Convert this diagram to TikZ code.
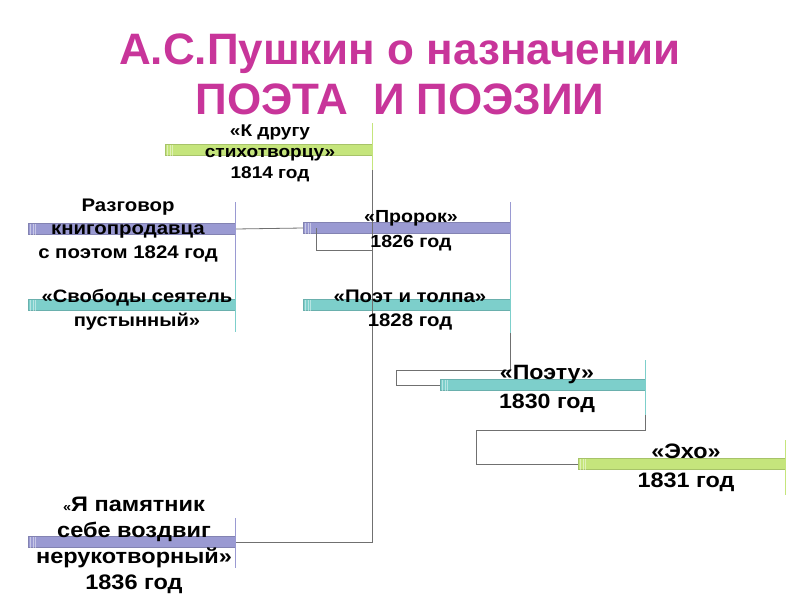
\documentclass[tikz,border=0pt]{standalone}
\usepackage{fontspec}
\setmainfont{Liberation Sans}
\newfontfamily\widefont[FakeStretch=1.12]{Liberation Sans}
\usetikzlibrary{calc}
\definecolor{ttl}{HTML}{C8359A}
\definecolor{pbarc}{HTML}{9A9AD2}
\definecolor{tbarc}{HTML}{7DCFCB}
\definecolor{gbarc}{HTML}{C5E57C}
\definecolor{connc}{HTML}{707070}
\begin{document}
\begin{tikzpicture}[x=1pt,y=-1pt,
  barbox/.style={rectangle, inner sep=0pt, minimum height=11pt, anchor=west, draw=#1!85!black, line width=0.4pt, fill=#1},
  conn/.style={draw=connc, line width=0.8pt},
  ticknode/.style={line width=1.2pt},
  lbl/.style={align=center, inner sep=0pt},
  ttlstyle/.style={align=center, inner sep=0pt, text=ttl, font=\bfseries\fontsize{44}{46}\selectfont}]
\useasboundingbox[fill=white] (0,0) rectangle (800,600);

% title
\node[ttlstyle] (title1) at (400,54) {А.С.Пушкин о назначении};
\node[ttlstyle] (title2) at (400,99) {ПОЭТА\ \ И ПОЭЗИИ};

% bars
\node[barbox=gbarc, minimum width=207pt] (b1) at (165,150) {};
\node[barbox=pbarc, minimum width=207pt] (b2) at (28,229) {};
\node[barbox=pbarc, minimum width=207pt] (b3) at (303,228) {};
\node[barbox=tbarc, minimum width=207pt] (b4) at (28,305) {};
\node[barbox=tbarc, minimum width=207pt] (b5) at (303,305) {};
\node[barbox=tbarc, minimum width=205pt] (b6) at (440,385) {};
\node[barbox=gbarc, minimum width=207pt] (b7) at (578,464) {};
\node[barbox=pbarc, minimum width=207pt] (b8) at (28,542) {};

% striped caps at left ends
\foreach \b in {b1,b2,b3,b4,b5,b6,b7,b8}{
  \foreach \dx in {2,4.5,7}{
    \fill[white, opacity=0.45] ($(\b.west)+(\dx,-5.5)$) rectangle ++(1,11);
  }
}

% connectors
\coordinate (trunk) at (373,250);
\draw[conn] (b8.east) -| (b1.east);
\draw[conn] (b2.east) -- (b3.west);
\draw[conn] ($(b3.west)+(13,0)$) |- (trunk);
\draw[conn] (b3.east) |- (396,370) |- (b6.west);
\draw[conn] (b6.east) |- (476,430) |- (b7.west);

% vertical ticks at right ends
\draw[ticknode, draw=gbarc] ($(b1.east)+(0,-27)$) -- ($(b1.east)+(0,20)$);
\draw[ticknode, draw=pbarc] ($(b2.east)+(0,-27)$) -- ($(b2.east)+(0,51)$);
\draw[ticknode, draw=pbarc] ($(b3.east)+(0,-26)$) -- ($(b3.east)+(0,52)$);
\draw[ticknode, draw=tbarc] ($(b4.east)+(0,-25)$) -- ($(b4.east)+(0,27)$);
\draw[ticknode, draw=tbarc] ($(b5.east)+(0,-25)$) -- ($(b5.east)+(0,28)$);
\draw[ticknode, draw=tbarc] ($(b6.east)+(0,-25)$) -- ($(b6.east)+(0,30)$);
\draw[ticknode, draw=gbarc] ($(b7.east)+(0,-24)$) -- ($(b7.east)+(0,31)$);
\draw[ticknode, draw=pbarc] ($(b8.east)+(0,-24)$) -- ($(b8.east)+(0,26)$);

% labels
\node[lbl, font=\widefont\bfseries\fontsize{17}{21}\selectfont] (t1) at (270,153) {«К другу\\стихотворцу»\\1814 год};
\node[lbl, font=\widefont\bfseries\fontsize{18.2}{23.5}\selectfont] (t2) at (128,230.5) {Разговор\\книгопродавца\\с поэтом 1824 год};
\node[lbl, font=\widefont\bfseries\fontsize{17.5}{25}\selectfont] (t3) at (411,230.5) {«Пророк»\\1826 год};
\node[lbl, font=\widefont\bfseries\fontsize{18}{24}\selectfont] (t4) at (137,310) {«Свободы сеятель\\пустынный»};
\node[lbl, font=\widefont\bfseries\fontsize{18.2}{24}\selectfont] (t5) at (410,310) {«Поэт и толпа»\\1828 год};
\node[lbl, font=\widefont\bfseries\fontsize{20.7}{29}\selectfont] (t6) at (547,388.5) {«Поэту»\\1830 год};
\node[lbl, font=\widefont\bfseries\fontsize{20.9}{29}\selectfont] (t7) at (686,467.5) {«Эхо»\\1831 год};
\node[lbl, font=\widefont\bfseries\fontsize{21}{26}\selectfont] (t8) at (134,545) {{\fontsize{13}{26}\selectfont«}Я памятник\\себе воздвиг\\нерукотворный»\\1836 год};
\end{tikzpicture}
\end{document}
